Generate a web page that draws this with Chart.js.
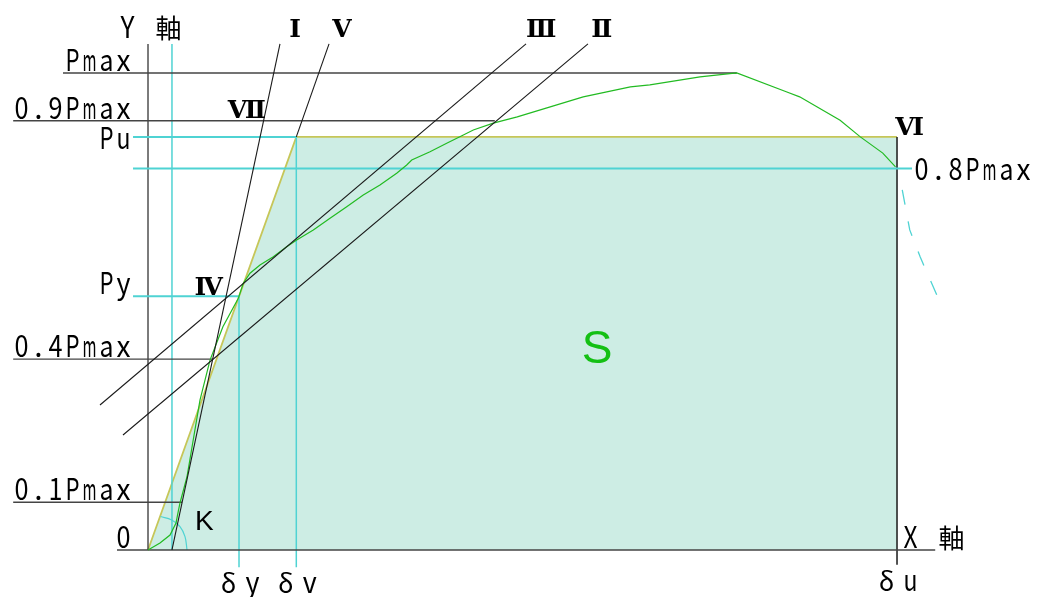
<!DOCTYPE html>
<html>
<head>
<meta charset="utf-8">
<script src="https://cdn.jsdelivr.net/npm/chart.js@4.4.1/dist/chart.umd.min.js"></script>
<style>
  html, body { margin: 0; padding: 0; background: #fff; }
  #wrap { width: 1040px; height: 597px; }
</style>
</head>
<body>
<div id="wrap"><canvas id="diagram" width="1040" height="597"></canvas></div>
<script>
// ---- DATA (load in % of Pmax, displacement in % of δu) ----
const levelNames  = ['Pmax', '0.9Pmax', 'Pu', '0.8Pmax', 'Py', '0.4Pmax', '0.1Pmax', '0'];
const levelValues = [100, 90, 86.6, 80, 53.2, 40, 10, 0];
const levelFrom   = [-11.35, -18, -2, -2, -2, -18, -18, -4.14];
const levelTo     = [78.6, 46.3, 19.8, 102, 12.15, 8.68, 4.54, 105.1];

const dispNames  = ['δy', 'δv', 'δu'];
const dispValues = [12.15, 19.8, 100];
const dispTop    = [53.2, 86.6, 86.6];
const dispBottom = [-3.6, -3.6, -3.1];

// load-displacement curve
const curveX = [0, 1.6, 2.94, 3.74, 4.0, 4.27, 5.2, 6.94, 8.28, 10.0, 12.06, 12.72, 13.62, 14.95,
                16.73, 18.52, 19.85, 22.07, 24.3, 26.53, 28.74, 30.97, 33.2, 34.54, 35.21, 37.65,
                39.88, 42.1, 43.43, 46.1, 49.3, 53.7, 58.1, 64.4, 67.0, 73.7, 78.6, 85.3, 87.0,
                92.4, 95.1, 98.1, 99.8];
const curveY = [0, 1.47, 3.14, 5.66, 7.76, 9.85, 15.3, 31.4, 39.8, 46.8, 52.77, 55.91, 58.01, 59.75,
                61.49, 63.58, 64.99, 67.09, 69.54, 71.97, 74.42, 76.52, 78.97, 80.71, 81.76, 83.5,
                85.26, 87.0, 88.05, 89.5, 90.8, 92.9, 95.0, 97.1, 97.5, 99.2, 100, 96.0, 95.0,
                90.1, 86.6, 83.2, 80.3];
const tailX = [100.7, 101.7, 103.1, 105.3];
const tailY = [75.5, 67.1, 61.4, 53.5];

// equivalent elasto-plastic envelope
const envX = [0, 19.8, 100];
const envY = [0, 86.6, 86.6];

// reference lines Ⅰ Ⅴ Ⅲ Ⅱ
const lineNames = ['Ⅰ', 'Ⅴ', 'Ⅲ', 'Ⅱ'];
const lineX0 = [3.2, 19.8, -6.41, -3.34];
const lineY0 = [0, 86.6, 30.4, 24.1];
const lineX1 = [17.62, 24.17, 50.47, 58.74];
const lineY1 = [106.1, 106.1, 106.1, 106.1];

const axisTop = 106.1;
const kShift = 3.2;
const arcX = [1.67, 3.16, 4.27, 4.94, 5.21];
const arcY = [7.02, 6.29, 4.89, 2.79, 0];

// ---- STYLE ----
const BLACK = '#1a1a1a';
const GRAY = '#444';
const CYAN = '#4fd3d3';
const YELLOW = '#c6c658';
const GREEN = '#22bb22';
const FILL = '#cdede4';
const levelColor = [GRAY, GRAY, CYAN, CYAN, CYAN, GRAY, GRAY, GRAY];
const levelLabelDy = [-2, -2, 12, 12, -2, -2, -2, -2];

const pts = (xs, ys) => xs.map((x, i) => ({ x, y: ys[i] }));
const seg = (data, color, width, extra) => Object.assign({
    data, borderColor: color, borderWidth: width, showLine: true,
    pointRadius: 0, fill: false, tension: 0, order: 1
}, extra || {});

const datasets = [];
datasets.push(seg(pts(envX, envY), YELLOW, 1.8, { fill: 'origin', backgroundColor: FILL, order: 10 }));
levelValues.forEach((v, i) => {
    datasets.push(seg(pts([levelFrom[i], levelTo[i]], [v, v]), levelColor[i], levelColor[i] === CYAN ? 2 : 1.4));
});
dispValues.forEach((d, i) => {
    datasets.push(seg(pts([d, d], [dispTop[i], dispBottom[i]]), i === 2 ? BLACK : CYAN, 1.5));
});
datasets.push(seg(pts([0, 0], [0, axisTop]), GRAY, 1.4));
datasets.push(seg(pts([kShift, kShift], [0, axisTop]), CYAN, 1.5));
lineNames.forEach((n, i) => {
    datasets.push(seg(pts([lineX0[i], lineX1[i]], [lineY0[i], lineY1[i]]), BLACK, 1.1, { order: 0 }));
});
datasets.push(seg(pts(curveX, curveY), GREEN, 1.2, { order: 0 }));
datasets.push(seg(pts(tailX, tailY), CYAN, 1.3, { borderDash: [15, 17] }));
datasets.push(seg(pts(arcX, arcY), CYAN, 1.2, { tension: 0.4 }));

// ---- TEXT ----
const romanNames = ['Ⅰ', 'Ⅴ', 'Ⅲ', 'Ⅱ', 'Ⅶ', 'Ⅳ', 'Ⅵ'];
const romanAt = [[19.63, 107.55], [25.9, 107.55], [52.5, 107.55], [60.6, 107.55], [13.2, 90.6], [8.1, 53.5], [101.7, 87.0]];

// half-width / full-width gothic look: every char gets its own cell
function drawMono(ctx, text, x, y, align) {
    const cell = c => /[\x00-\x7f]/.test(c) ? 17 : 31;
    const chars = [...text];
    const total = chars.reduce((s, c) => s + cell(c), 0);
    let cx = align === 'right' ? x - total : x;
    chars.forEach(c => {
        const w = cell(c);
        if (c !== ' ') {
            const wide = w > 17;
            ctx.font = wide ? "26px 'Noto Sans CJK JP'" : "30px 'Noto Sans CJK JP'";
            const m = ctx.measureText(c).width;
            const s = Math.min(1, (wide ? 28 : 14) / m);
            ctx.save();
            ctx.translate(cx + w / 2, y);
            ctx.scale(s, 1);
            ctx.textAlign = 'center';
            ctx.textBaseline = 'alphabetic';
            ctx.fillText(c, 0, 0);
            ctx.restore();
        }
        cx += w;
    });
}

const labelPlugin = {
    id: 'labels',
    afterDatasetsDraw(chart) {
        const ctx = chart.ctx;
        const sx = chart.scales.x, sy = chart.scales.y;
        const X = v => sx.getPixelForValue(v), Y = v => sy.getPixelForValue(v);
        ctx.save();
        ctx.fillStyle = '#000';

        // load levels
        levelNames.forEach((n, i) => {
            if (n === '0.8Pmax') drawMono(ctx, n, X(levelTo[i]) + 1, Y(levelValues[i]) + levelLabelDy[i], 'left');
            else drawMono(ctx, n, X(-2.0) - 1, Y(levelValues[i]) + levelLabelDy[i], 'right');
        });
        // displacements
        dispNames.forEach((n, i) => drawMono(ctx, n, X(dispValues[i]) - 26, Y(dispBottom[i]) + 26, 'left'));
        // axis names
        drawMono(ctx, 'Y 軸', X(0) - 29, Y(axisTop) - 6, 'left');
        drawMono(ctx, 'X 軸', X(100) + 5, Y(0) - 2, 'left');

        // roman numerals
        ctx.font = "bold 25px 'DejaVu Serif', 'Liberation Serif', serif";
        ctx.textAlign = 'center';
        ctx.textBaseline = 'alphabetic';
        romanNames.forEach((n, i) => ctx.fillText(n, X(romanAt[i][0]), Y(romanAt[i][1])));

        // K and S
        ctx.textAlign = 'left';
        ctx.font = "28px 'Liberation Sans', Arial, sans-serif";
        ctx.fillText('K', X(6.28), Y(4.19));
        ctx.fillStyle = '#14c014';
        ctx.font = "46px 'Liberation Sans', Arial, sans-serif";
        ctx.textAlign = 'center';
        ctx.fillText('S', X(59.95), Y(39.2));
        ctx.restore();
    }
};

new Chart(document.getElementById('diagram'), {
    type: 'scatter',
    data: { datasets },
    options: {
        responsive: false,
        animation: false,
        events: [],
        layout: { padding: 0 },
        plugins: { legend: { display: false }, tooltip: { enabled: false } },
        scales: {
            x: { type: 'linear', display: false, min: -19.76, max: 119.09 },
            y: { type: 'linear', display: false, min: -9.86, max: 115.30 }
        }
    },
    plugins: [labelPlugin]
});
</script>
</body>
</html>
